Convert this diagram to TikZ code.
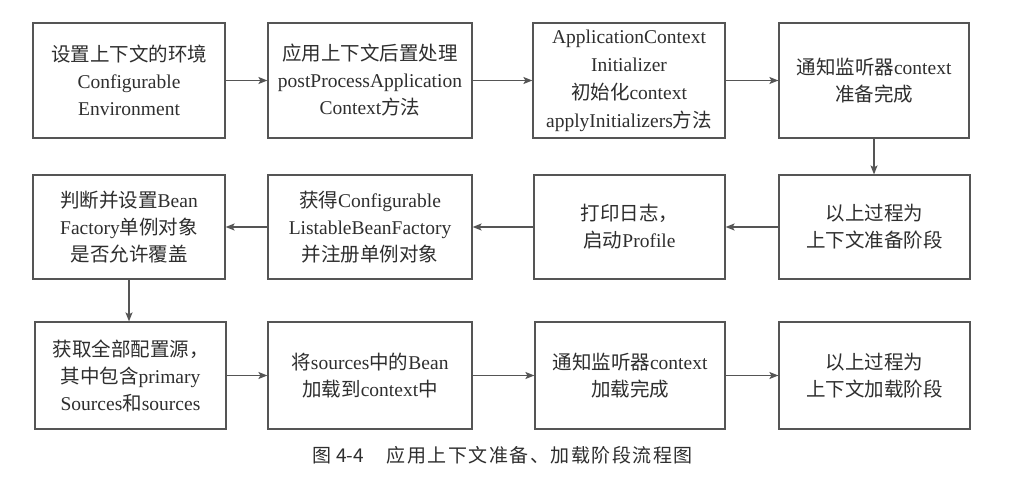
\documentclass[tikz,border=0pt]{standalone}
\usepackage{fontspec}
\setmainfont{Liberation Serif}
\newfontfamily\cjk{Noto Sans CJK SC}
\newfontfamily\cjkcap[LetterSpace=8]{Noto Sans CJK SC}
\newcommand\zh[1]{{\cjk #1}}
\usetikzlibrary{arrows.meta}
\definecolor{ink}{HTML}{2E2E2E}
\definecolor{edgecol}{HTML}{555555}
\begin{document}
\begin{tikzpicture}[x=1pt,y=-1pt,
  box/.style={draw=edgecol, line width=1.2pt, text=ink, align=center, inner sep=0pt,
    font=\fontsize{19.5}{27}\selectfont},
  flow/.style={draw=edgecol, line width=1.2pt, -{Stealth[length=9pt,width=7pt,inset=2pt]}}]
\useasboundingbox[fill=white] (0,0) rectangle (1024,478);
% row 1
\node[box, minimum width=192pt, minimum height=115pt] (b1) at (129,80.5)
  {\zh{设置上下文的环境}\\Configurable\\Environment};
\node[box, minimum width=204pt, minimum height=115pt] (b2) at (370,80.5)
  {\zh{应用上下文后置处理}\\postProcessApplication\\Context\zh{方法}};
\node[box, minimum width=192pt, minimum height=115pt, font=\fontsize{19.5}{28}\selectfont] (b3) at (629,80.5)
  {ApplicationContext\\Initializer\\\zh{初始化}context\\applyInitializers\zh{方法}};
\node[box, minimum width=190pt, minimum height=115pt] (b4) at (874,80.5)
  {\zh{通知监听器}context\\\zh{准备完成}};
% row 2
\node[box, minimum width=192pt, minimum height=104pt] (b5) at (129,227)
  {\zh{判断并设置}Bean\\Factory\zh{单例对象}\\\zh{是否允许覆盖}};
\node[box, minimum width=204pt, minimum height=104pt] (b6) at (370,227)
  {\zh{获得}Configurable\\ListableBeanFactory\\\zh{并注册单例对象}};
\node[box, minimum width=191pt, minimum height=104pt] (b7) at (629.5,227)
  {\zh{打印日志，}\\\zh{启动}Profile};
\node[box, minimum width=191pt, minimum height=104pt] (b8) at (874.5,227)
  {\zh{以上过程为}\\\zh{上下文准备阶段}};
% row 3
\node[box, minimum width=191pt, minimum height=107pt] (b9) at (130.5,375.5)
  {\zh{获取全部配置源，}\\\zh{其中包含}primary\\Sources\zh{和}sources};
\node[box, minimum width=204pt, minimum height=107pt] (b10) at (370,375.5)
  {\zh{将}sources\zh{中的}Bean\\\zh{加载到}context\zh{中}};
\node[box, minimum width=190pt, minimum height=107pt] (b11) at (630,375.5)
  {\zh{通知监听器}context\\\zh{加载完成}};
\node[box, minimum width=191pt, minimum height=107pt] (b12) at (874.5,375.5)
  {\zh{以上过程为}\\\zh{上下文加载阶段}};
% connectors
\draw[flow] (b1) -- (b2);
\draw[flow] (b2) -- (b3);
\draw[flow] (b3) -- (b4);
\draw[flow] (b4.south) -- (b4.south |- b8.north);
\draw[flow] (b8) -- (b7);
\draw[flow] (b7) -- (b6);
\draw[flow] (b6) -- (b5);
\draw[flow] (b5.south) -- (b5.south |- b9.north);
\draw[flow] (b9) -- (b10);
\draw[flow] (b10) -- (b11);
\draw[flow] (b11) -- (b12);
% caption
\node[text=ink, font=\fontsize{19}{24}\selectfont, inner sep=0pt] (cap) at (503,455)
  {\cjk 图 4-4\hspace{1.2em}{\cjkcap 应用上下文准备、加载阶段流程图}};
\end{tikzpicture}
\end{document}
